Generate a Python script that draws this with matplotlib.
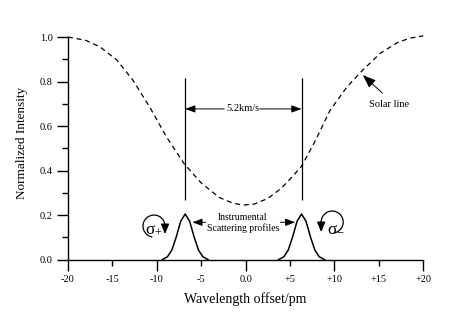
"""
plot.py - Solar line profile with instrumental scattering profiles.
Output: out.png (475x331)
"""

import matplotlib
matplotlib.use("Agg")
import matplotlib.pyplot as plt
from matplotlib.patches import Arc
from matplotlib.ticker import FixedLocator, MultipleLocator

plt.rcParams["font.family"] = ["Liberation Serif", "DejaVu Serif"]
plt.rcParams["mathtext.fontset"] = "stix"

# Solar line (dashed)
solar_x = [-20, -18, -16.4, -14.5, -12.7, -10.8, -8.9, -6.9, -5, -3, -1.5,
           -0.3, 1, 2.5, 4, 5.2, 6.3, 7.8, 9.5, 11.4, 13.2, 15.2, 17.1, 18.5, 20]
solar_y = [1.00, 0.985, 0.956, 0.897, 0.807, 0.686, 0.551, 0.43, 0.345, 0.28, 0.255,
           0.245, 0.25, 0.275, 0.32, 0.37, 0.42, 0.53, 0.67, 0.775, 0.852, 0.928, 0.975, 0.995, 1.005]

# Instrumental profiles: centres and shape (offset from centre, height)
profile_centres = [-6.8, 6.3]
profile_dx = [-2.6, -2.0, -1.5, -1.0, -0.5, 0.0, 0.5, 1.0, 1.5, 2.0, 2.6]
profile_y = [0.0, 0.013, 0.043, 0.103, 0.173, 0.205, 0.173, 0.103, 0.043, 0.013, 0.0]

# Marker lines between the two profiles
marker_x = [-6.8, 6.3]
marker_ymin, marker_ymax = 0.267, 0.816

x_ticks = [-20, -15, -10, -5, 0, 5, 10, 15, 20]
x_labels = ["-20", "-15", "-10", "-5", "0.0", "+5", "+10", "+15", "+20"]
y_ticks = [0.0, 0.2, 0.4, 0.6, 0.8, 1.0]


def circular_arrow(ax, cx, cy, w, h, t1, t2, tip_x, tip_y):
    """Cung tron + dau mui ten huong xuong."""
    ax.add_patch(Arc((cx, cy), w, h, theta1=t1, theta2=t2, color="black", lw=0.9))
    ax.annotate("", xy=(tip_x, tip_y), xytext=(tip_x, cy),
                arrowprops=dict(arrowstyle="-|>,head_length=0.6,head_width=0.25",
                                color="black", lw=0.9, shrinkA=0, shrinkB=0))


def main():
    fig = plt.figure(figsize=(4.75, 3.31), dpi=100)
    ax = fig.add_axes([0.143, 0.2154, 0.748, 0.6728])

    ax.plot(solar_x, solar_y, color="black", lw=0.9, ls=(0, (4, 3)), clip_on=False)

    for c in profile_centres:
        ax.plot([c + d for d in profile_dx], profile_y, color="black", lw=1.1)

    ax.vlines(marker_x, marker_ymin, marker_ymax, color="black", lw=0.9)

    # 5.2 km/s
    ax.text(-0.3, 0.677, "5.2km/s", ha="center", va="center", fontsize=7.5)
    arr = dict(arrowstyle="-|>,head_length=0.6,head_width=0.22", color="black", lw=0.7,
               shrinkA=0, shrinkB=0)
    ax.annotate("", xy=(marker_x[0], 0.677), xytext=(-2.4, 0.677), arrowprops=arr)
    ax.annotate("", xy=(marker_x[1], 0.677), xytext=(1.6, 0.677), arrowprops=arr)

    # Solar line label
    ax.text(16.1, 0.695, "Solar line", ha="center", va="center", fontsize=7.5)
    ax.annotate("", xy=(13.2, 0.829), xytext=(15.4, 0.748),
                arrowprops=dict(arr, arrowstyle="-|>,head_length=0.8,head_width=0.3"))

    # Instrumental profiles label
    ax.text(-0.3, 0.165, "Instrumental\nScattering profiles", ha="center", va="center",
            fontsize=7, linespacing=1.1)
    ax.annotate("", xy=(-6.0, 0.168), xytext=(-4.5, 0.168), arrowprops=arr)
    ax.annotate("", xy=(5.6, 0.168), xytext=(3.9, 0.168), arrowprops=arr)

    # polarisation symbols with curved arrows
    ax.text(-10.3, 0.138, r"$\mathregular{\sigma_{+}}$", ha="center", va="center", fontsize=12.5)
    ax.text(10.2, 0.143, r"$\mathregular{\sigma_{-}}$", ha="center", va="center", fontsize=12.5)
    circular_arrow(ax, -10.31, 0.151, 2.48, 0.099, 0, 195, -9.07, 0.115)
    circular_arrow(ax, 9.75, 0.169, 2.48, 0.099, -15, 180, 8.51, 0.124)

    ax.set_xlim(-20, 20)
    ax.set_ylim(0, 1.0)
    for s in ["top", "right"]:
        ax.spines[s].set_visible(False)
    for s in ["left", "bottom"]:
        ax.spines[s].set_linewidth(1.0)

    ax.xaxis.set_major_locator(FixedLocator(x_ticks))
    ax.set_xticklabels(x_labels)
    ax.set_yticks(y_ticks)
    ax.set_yticklabels([f"{v:.1f}" for v in y_ticks])
    ax.yaxis.set_minor_locator(MultipleLocator(0.1))

    ax.tick_params(axis="both", which="major", direction="out", length=8, width=1.0,
                   labelsize=7.5, pad=3)
    ax.tick_params(axis="y", which="minor", direction="out", length=4.3, width=1.0)
    # x ticks: long at multiples of 10, short at odd fives
    for t, v in zip(ax.xaxis.get_major_ticks(), x_ticks):
        if v % 10 != 0:
            t.tick1line.set_markersize(4)

    ax.set_xlabel("Wavelength offset/pm", fontsize=10, labelpad=6)
    ax.set_ylabel("Normalized Intensity", fontsize=9.5)
    ax.yaxis.set_label_coords(-0.112, 0.525)

    fig.savefig("out.png", dpi=100)
    plt.close(fig)


if __name__ == "__main__":
    main()
